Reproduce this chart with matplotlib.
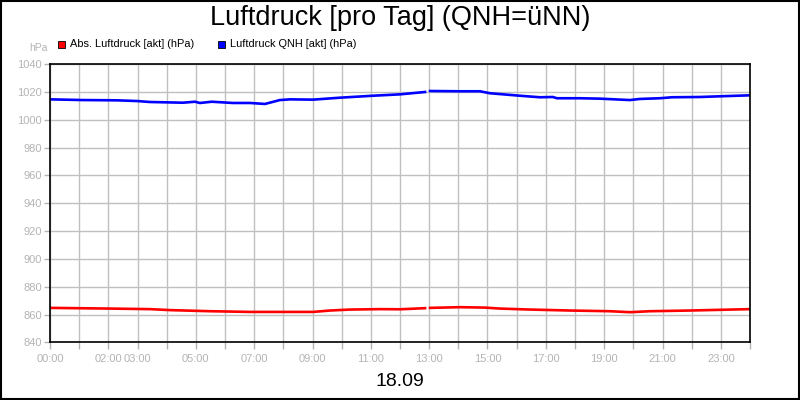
import numpy as np
import matplotlib
matplotlib.use("Agg")
import matplotlib.pyplot as plt
from matplotlib.patches import Rectangle

plt.rcParams['font.family'] = ['Liberation Sans', 'DejaVu Sans']

# Stunden des Tages (gelesen aus dem Bild), NaN = Datenluecke
qnh_hours = [0.0, 1.13, 2.30, 2.98, 3.43, 4.56, 4.97, 5.14, 5.55, 6.27, 6.86, 7.37, 7.88,
             8.23, 9.02, 9.94, 11.07, 12.0, 12.86, 12.95, 13.03, 14.06, 14.74, 15.08, 16.11,
             16.8, 17.24, 17.38, 18.17, 18.86, 19.88, 20.23, 20.91, 21.32, 22.28, 22.97, 24.0]
qnh_values = [1014.6, 1014.1, 1013.9, 1013.4, 1012.7, 1012.2, 1012.9, 1012.0, 1012.9, 1012.0,
              1012.0, 1011.3, 1014.1, 1014.6, 1014.4, 1015.8, 1017.2, 1018.2, 1019.9, np.nan,
              1020.6, 1020.4, 1020.4, 1019.0, 1017.2, 1016.1, 1016.3, 1015.4, 1015.4, 1015.1,
              1014.1, 1014.9, 1015.4, 1016.1, 1016.3, 1016.8, 1017.5]

abs_hours = [0.0, 2.06, 3.43, 4.11, 5.49, 6.86, 8.23, 9.02, 9.6, 10.29, 11.32, 12.0,
             12.34, 12.86, 12.95, 13.03, 14.06, 14.91, 15.43, 16.46, 17.83, 19.2, 19.88,
             20.57, 21.94, 22.97, 24.0]
abs_values = [864.8, 864.3, 863.9, 863.2, 862.4, 861.9, 861.9, 861.9, 862.9, 863.6, 863.9,
              863.8, 864.1, 864.6, np.nan, 864.8, 865.3, 865.0, 864.3, 863.6, 862.9, 862.4,
              861.7, 862.4, 862.9, 863.4, 863.9]

series_names = ["Abs. Luftdruck [akt] (hPa)", "Luftdruck QNH [akt] (hPa)"]
series_colors = ["#ff0000", "#0000ff"]

tick_hours = list(range(25))
tick_labels = {0: "00:00", 2: "02:00", 3: "03:00", 5: "05:00", 7: "07:00", 9: "09:00",
               11: "11:00", 13: "13:00", 15: "15:00", 17: "17:00", 19: "19:00",
               21: "21:00", 23: "23:00"}
y_ticks = list(range(840, 1041, 20))

grey = "#b4b4b4"

fig = plt.figure(figsize=(8, 4), dpi=100)
ax = fig.add_axes([0.0625, 0.144, 0.875, 0.696])

ax.plot(abs_hours, abs_values, color=series_colors[0], lw=1.9)
ax.plot(qnh_hours, qnh_values, color=series_colors[1], lw=1.9)

ax.set_xlim(0, 24)
ax.set_ylim(840, 1040)
ax.set_xticks(tick_hours)
ax.set_xticklabels([tick_labels.get(h, "") for h in tick_hours])
ax.set_yticks(y_ticks)
ax.grid(True, color="#c0c0c0", lw=1)
ax.set_axisbelow(True)
ax.tick_params(axis="x", colors=grey, labelsize=8, length=5, width=1, pad=3)
ax.tick_params(axis="y", colors=grey, labelsize=8, length=4, width=1, pad=2)
for sp in ax.spines.values():
    sp.set_color("black")
    sp.set_linewidth(1.2)

fig.text(0.5, 0.955, "Luftdruck [pro Tag] (QNH=üNN)", ha="center", va="center", fontsize=19.5)
fig.text(0.5, 0.045, "18.09", ha="center", va="center", fontsize=14)
fig.text(0.06, 0.88, "hPa", ha="right", va="center", fontsize=7.5, color=grey)

# Legende von Hand: kleine Quadrate + Text
leg_x = [0.0725, 0.2725]
for name, c, x0 in zip(series_names, series_colors, leg_x):
    fig.patches.append(Rectangle((x0, 0.88), 0.009, 0.018, transform=fig.transFigure,
                                 facecolor=c, edgecolor="black", lw=0.6))
    fig.text(x0 + 0.015, 0.889, name, ha="left", va="center", fontsize=7.9, color="black")

fig.patches.append(Rectangle((0.0008, 0.0015), 0.9985, 0.997, transform=fig.transFigure,
                             fill=False, edgecolor="black", lw=1.5))

fig.savefig("out.png", dpi=100)
